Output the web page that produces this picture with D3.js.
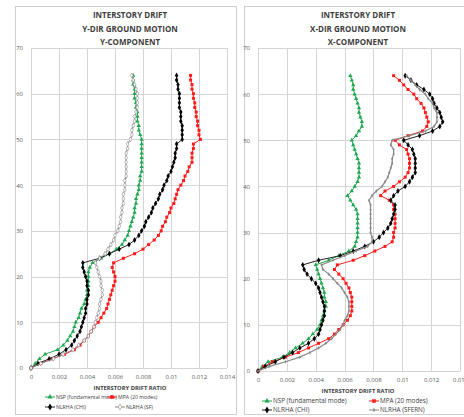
<!DOCTYPE html>
<html><head><meta charset="utf-8">
<script src="https://cdn.jsdelivr.net/npm/d3@7"></script>
<style>body{margin:0;background:#fff}svg{display:block}text{font-family:"Open Sans","Liberation Sans",sans-serif}</style>
</head><body>
<svg id="c" width="464" height="417"></svg>
<script>
const stories = d3.range(0, 65);
const xTicks = [0, 0.002, 0.004, 0.006, 0.008, 0.01, 0.012, 0.014];
const yTicks = [0, 10, 20, 30, 40, 50, 60, 70];
const xTickLabels = ["0", "0.002", "0.004", "0.006", "0.008", "0.01", "0.012", "0.014"];

// Left panel: Y-dir ground motion, Y-component
const yNSP = [0,0.0003,0.0006,0.0010,0.0019,0.0023,0.0026,0.0028,0.0030,0.0031,0.0032,0.0034,0.0035,0.0036,0.0038,0.0039,0.0040,0.0040,0.0041,0.0041,0.0041,0.0041,0.0042,0.0044,0.0050,0.0056,0.0061,0.0065,0.0067,0.0069,0.0070,0.0071,0.0072,0.0073,0.0074,0.0074,0.0075,0.0075,0.0076,0.0077,0.0077,0.0078,0.0078,0.0079,0.0079,0.0079,0.0079,0.0079,0.0079,0.0079,0.0079,0.0078,0.0077,0.0077,0.0076,0.0076,0.0076,0.0075,0.0075,0.0074,0.0074,0.0074,0.0073,0.0073,0.0073];
const yMPA = [0,0.0007,0.0015,0.0024,0.0031,0.0035,0.0038,0.0041,0.0043,0.0045,0.0048,0.0050,0.0052,0.0054,0.0055,0.0056,0.0057,0.0058,0.0059,0.0060,0.0060,0.0059,0.0058,0.0059,0.0066,0.0074,0.0080,0.0084,0.0088,0.0091,0.0093,0.0094,0.0096,0.0097,0.0099,0.0100,0.0102,0.0103,0.0104,0.0105,0.0107,0.0109,0.0110,0.0112,0.0113,0.0115,0.0115,0.0115,0.0116,0.0116,0.0121,0.0120,0.0120,0.0119,0.0119,0.0118,0.0118,0.0117,0.0117,0.0116,0.0116,0.0115,0.0115,0.0114,0.0114];
const yCHI = [0,0.0005,0.0013,0.0020,0.0025,0.0029,0.0031,0.0033,0.0035,0.0036,0.0037,0.0038,0.0039,0.0039,0.0040,0.0040,0.0041,0.0041,0.0040,0.0040,0.0039,0.0038,0.0037,0.0037,0.0049,0.0056,0.0063,0.0070,0.0074,0.0077,0.0079,0.0081,0.0082,0.0084,0.0086,0.0087,0.0089,0.0091,0.0092,0.0094,0.0095,0.0097,0.0098,0.0100,0.0101,0.0102,0.0103,0.0103,0.0104,0.0104,0.0108,0.0108,0.0108,0.0108,0.0107,0.0107,0.0107,0.0106,0.0106,0.0106,0.0106,0.0105,0.0105,0.0104,0.0104];
const ySF = [0,0.0007,0.0016,0.0023,0.0030,0.0034,0.0038,0.0041,0.0043,0.0045,0.0046,0.0047,0.0048,0.0049,0.0049,0.0050,0.0051,0.0051,0.0050,0.0050,0.0049,0.0048,0.0047,0.0046,0.0049,0.0053,0.0055,0.0057,0.0059,0.0060,0.0062,0.0063,0.0064,0.0064,0.0065,0.0065,0.0066,0.0066,0.0066,0.0067,0.0067,0.0067,0.0068,0.0068,0.0068,0.0068,0.0068,0.0068,0.0069,0.0069,0.0071,0.0072,0.0072,0.0073,0.0074,0.0074,0.0075,0.0076,0.0076,0.0076,0.0076,0.0075,0.0074,0.0073,0.0072];

// Right panel: X-dir ground motion, X-component
const xNSP = [0,0.0003,0.0007,0.0017,0.0022,0.0026,0.0031,0.0035,0.0038,0.0041,0.0043,0.0044,0.0045,0.0046,0.0047,0.0047,0.0046,0.0046,0.0045,0.0044,0.0043,0.0042,0.0041,0.0040,0.0049,0.0056,0.0063,0.0067,0.0068,0.0069,0.0069,0.0069,0.0069,0.0069,0.0069,0.0068,0.0066,0.0064,0.0062,0.0065,0.0067,0.0069,0.0070,0.0070,0.0070,0.0070,0.0069,0.0068,0.0067,0.0066,0.0065,0.0068,0.0070,0.0072,0.0072,0.0071,0.0070,0.0070,0.0069,0.0068,0.0067,0.0066,0.0066,0.0065,0.0064];
const xMPA = [0,0.0004,0.0010,0.0019,0.0028,0.0035,0.0042,0.0049,0.0053,0.0056,0.0059,0.0062,0.0064,0.0065,0.0065,0.0065,0.0065,0.0064,0.0063,0.0061,0.0059,0.0056,0.0053,0.0055,0.0066,0.0074,0.0081,0.0088,0.0093,0.0094,0.0094,0.0095,0.0095,0.0095,0.0095,0.0094,0.0094,0.0091,0.0085,0.0088,0.0094,0.0098,0.0102,0.0104,0.0105,0.0105,0.0105,0.0104,0.0103,0.0098,0.0095,0.0104,0.0114,0.0117,0.0118,0.0117,0.0116,0.0115,0.0113,0.0110,0.0108,0.0104,0.0101,0.0098,0.0094];
const xCHI = [0,0.0005,0.0012,0.0018,0.0024,0.0029,0.0035,0.0039,0.0042,0.0043,0.0044,0.0045,0.0046,0.0046,0.0046,0.0045,0.0044,0.0043,0.0042,0.0040,0.0037,0.0034,0.0032,0.0031,0.0042,0.0057,0.0066,0.0074,0.0080,0.0084,0.0087,0.0090,0.0092,0.0093,0.0094,0.0095,0.0095,0.0092,0.0094,0.0097,0.0102,0.0105,0.0107,0.0109,0.0109,0.0109,0.0109,0.0108,0.0107,0.0104,0.0101,0.0112,0.0121,0.0126,0.0128,0.0127,0.0126,0.0124,0.0122,0.0121,0.0119,0.0115,0.0110,0.0106,0.0102];
const xSFERN = [0,0.0008,0.0019,0.0029,0.0036,0.0042,0.0047,0.0051,0.0054,0.0057,0.0059,0.0060,0.0062,0.0063,0.0063,0.0063,0.0062,0.0060,0.0058,0.0055,0.0052,0.0049,0.0045,0.0044,0.0052,0.0060,0.0068,0.0076,0.0079,0.0079,0.0078,0.0078,0.0078,0.0078,0.0078,0.0078,0.0078,0.0077,0.0079,0.0082,0.0086,0.0088,0.0090,0.0091,0.0092,0.0093,0.0093,0.0094,0.0094,0.0092,0.0093,0.0105,0.0116,0.0122,0.0124,0.0124,0.0124,0.0122,0.0121,0.0118,0.0116,0.0112,0.0109,0.0106,0.0103];

const svg = d3.select("#c");

function panel(cfg) {
  const g = svg.append("g");
  g.append("rect").attr("x", cfg.box[0] + 0.5).attr("y", cfg.box[1] + 0.5)
    .attr("width", cfg.box[2]).attr("height", cfg.box[3])
    .attr("fill", "#fff").attr("stroke", "#cfcfcf").attr("stroke-width", 1);

  const x = d3.scaleLinear().domain([0, 0.014]).range(cfg.xr);
  const y = d3.scaleLinear().domain([0, 70]).range(cfg.yr);

  g.append("g").selectAll("line").data(xTicks).join("line")
    .attr("x1", d => Math.round(x(d)) + 0.5).attr("x2", d => Math.round(x(d)) + 0.5)
    .attr("y1", y(0)).attr("y2", y(70)).attr("stroke", "#d4d4d4").attr("stroke-width", 1);
  g.append("g").selectAll("line").data(yTicks).join("line")
    .attr("y1", d => Math.round(y(d)) + 0.5).attr("y2", d => Math.round(y(d)) + 0.5)
    .attr("x1", x(0)).attr("x2", x(0.014)).attr("stroke", "#d4d4d4").attr("stroke-width", 1);

  const ax = g.append("g").attr("transform", `translate(0,${y(0)})`)
    .call(d3.axisBottom(x).tickValues(xTicks).tickFormat((d, i) => xTickLabels[i]).tickSize(0).tickPadding(7));
  ax.select(".domain").remove();
  ax.selectAll("text").attr("fill", "#595959").style("font-size", "6px");
  const ay = g.append("g").attr("transform", `translate(${x(0)},0)`)
    .call(d3.axisLeft(y).tickValues(yTicks).tickSize(0).tickPadding(8));
  ay.select(".domain").remove();
  ay.selectAll("text").attr("fill", "#595959").style("font-size", "6px");

  cfg.title.forEach((t, i) => {
    g.append("text").attr("x", cfg.tx).attr("y", 18 + i * 13.5).attr("text-anchor", "middle")
      .attr("font-weight", "bold").attr("font-size", "8px").attr("fill", "#404040").text(t);
  });
  g.append("text").attr("x", cfg.tx).attr("y", y(0) + 22).attr("text-anchor", "middle")
    .attr("font-weight", "bold").attr("font-size", "5.8px").attr("fill", "#404040").text("INTERSTORY DRIFT RATIO");

  const line = d3.line().x(d => x(d[1])).y(d => y(d[0]));
  cfg.series.forEach(s => {
    const pts = stories.map((st, i) => [st, s.values[i]]);
    g.append("path").datum(pts).attr("d", line).attr("fill", "none")
      .attr("stroke", s.color).attr("stroke-width", s.lw);
    const sym = d3.symbol().type(s.sym).size(s.size);
    g.append("g").selectAll("path").data(pts).join("path")
      .attr("transform", d => `translate(${x(d[1])},${y(d[0])})`)
      .attr("d", sym).attr("fill", s.fill).attr("stroke", s.stroke || "none").attr("stroke-width", 0.6);
  });

  cfg.series.forEach((s, i) => {
    const lx = cfg.leg[i][0], ly = cfg.leg[i][1];
    g.append("line").attr("x1", lx - 5).attr("x2", lx + 5).attr("y1", ly).attr("y2", ly)
      .attr("stroke", s.color).attr("stroke-width", 1);
    g.append("path").attr("transform", `translate(${lx},${ly})`).attr("d", d3.symbol().type(s.sym).size(s.size * 1.4))
      .attr("fill", s.fill).attr("stroke", s.stroke || "none").attr("stroke-width", 0.6);
    g.append("text").attr("x", lx + 6).attr("y", ly + 2).attr("font-size", cfg.lfs).attr("fill", "#404040").text(s.name);
  });
}

panel({
  box: [15, 6, 221, 408],
  xr: [31, 227], yr: [368, 48], tx: 130, lfs: "5.2px",
  title: ["INTERSTORY DRIFT", "Y-DIR GROUND MOTION", "Y-COMPONENT"],
  series: [
    {name: "NSP (fundamental mode)", values: yNSP, color: "#1fa84f", sym: d3.symbolTriangle, size: 8, fill: "#1fa84f", lw: 1},
    {name: "MPA (20 modes)", values: yMPA, color: "#ff2020", sym: d3.symbolSquare, size: 9, fill: "#ff1a1a", lw: 1},
    {name: "NLRHA (CHI)", values: yCHI, color: "#222", sym: d3.symbolDiamond, size: 10, fill: "#000", lw: 1},
    {name: "NLRHA (SF)", values: ySF, color: "#888", sym: d3.symbolDiamond, size: 7, fill: "#fff", stroke: "#888", lw: 1}
  ],
  leg: [[50, 397], [112, 397], [50, 407], [120, 407]]
});
panel({
  box: [244, 6, 230, 408],
  xr: [258, 460], yr: [371, 48], tx: 358, lfs: "6.3px",
  title: ["INTERSTORY DRIFT", "X-DIR GROUND MOTION", "X-COMPONENT"],
  series: [
    {name: "NSP (fundamental mode)", values: xNSP, color: "#1fa84f", sym: d3.symbolTriangle, size: 8, fill: "#1fa84f", lw: 1},
    {name: "MPA (20 modes)", values: xMPA, color: "#ff2020", sym: d3.symbolSquare, size: 9, fill: "#ff1a1a", lw: 1},
    {name: "NLRHA (CHI)", values: xCHI, color: "#222", sym: d3.symbolDiamond, size: 10, fill: "#000", lw: 1},
    {name: "NLRHA (SFERN)", values: xSFERN, color: "#888", sym: d3.symbolDiamond, size: 4, fill: "#888", lw: 1.2}
  ],
  leg: [[267, 401], [374, 401], [267, 410], [374, 410]]
});
</script>
</body></html>
